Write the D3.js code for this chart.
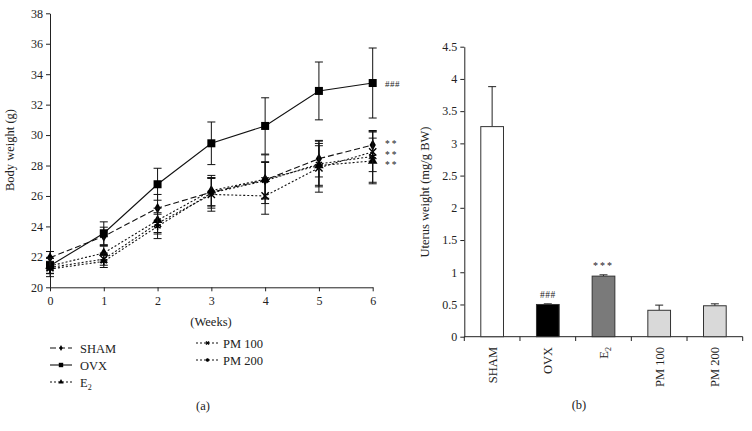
<!DOCTYPE html>
<html><head><meta charset="utf-8">
<script src="https://cdn.jsdelivr.net/npm/d3@7"></script>
<style>body{margin:0;background:#fff}svg{display:block}text{font-family:"Liberation Serif","DejaVu Serif",serif;fill:#222}</style>
</head><body><svg id="c" width="752" height="431"></svg>
<script>
const weeks = [0,1,2,3,4,5,6];
const shamMean = [21.95,23.35,25.2,26.25,27.05,28.45,29.35];
const shamSD   = [0.4,0.6,0.9,0.9,1.2,1.2,0.9];
const ovxMean  = [21.42,23.55,26.77,29.46,30.6,32.9,33.42];
const ovxSD    = [0.5,0.75,1.05,1.4,1.85,1.9,2.3];
const e2Mean   = [21.4,22.25,24.4,26.35,27.1,28.0,28.3];
const e2SD     = [0.5,0.45,0.8,1.0,1.6,1.3,1.5];
const pm100Mean= [21.3,21.85,24.2,26.1,26.0,27.85,28.9];
const pm100SD  = [0.4,0.4,0.7,1.1,1.2,1.6,1.3];
const pm200Mean= [21.2,21.7,24.0,26.2,27.0,28.1,28.6];
const pm200SD  = [0.5,0.4,0.8,1.0,1.2,1.5,1.7];
const yTicksA  = [20,22,24,26,28,30,32,34,36,38];
const endNotesA = ["###","**","**","**"];

const groups   = ["SHAM","OVX","E2","PM 100","PM 200"];
const uterus   = [3.26,0.5,0.94,0.41,0.48];
const uterusSD = [0.62,0.01,0.02,0.08,0.03];
const uterusFill = ["#ffffff","#000000","#7a7a7a","#d9d9d9","#d9d9d9"];
const uterusNote = ["","###","***","",""];
const yTicksB  = [0,0.5,1,1.5,2,2.5,3,3.5,4,4.5];

const svg = d3.select("#c");

// ---------- Panel (a) ----------
const xA = d3.scaleLinear().domain([0,6]).range([50,372.7]);
const yA = d3.scaleLinear().domain([20,38]).range([287.3,13.3]);

const gA = svg.append("g");
gA.append("g").attr("transform","translate(0,287.3)")
  .call(d3.axisBottom(xA).tickValues(weeks).tickSize(4).tickSizeOuter(0).tickFormat(d3.format("d")))
  .call(g=>g.selectAll("text").attr("font-size",12).attr("dy","0.9em"));
gA.append("g").attr("transform","translate(50,0)")
  .call(d3.axisLeft(yA).tickValues(yTicksA).tickSize(4).tickSizeOuter(0))
  .call(g=>g.selectAll("text").attr("font-size",12));
gA.selectAll(".domain,.tick line").attr("stroke","#222");

gA.append("text").attr("transform","translate(14,150) rotate(-90)").attr("text-anchor","middle").attr("font-size",12.5).text("Body weight (g)");
gA.append("text").attr("x",211).attr("y",326).attr("text-anchor","middle").attr("font-size",12.5).text("(Weeks)");
gA.append("text").attr("x",203).attr("y",410).attr("text-anchor","middle").attr("font-size",12.5).text("(a)");

const series = [
  {name:"SHAM", mean:shamMean, sd:shamSD, dash:"6,3", marker:"diamond"},
  {name:"OVX", mean:ovxMean, sd:ovxSD, dash:null, marker:"square"},
  {name:"E2", mean:e2Mean, sd:e2SD, dash:"2,2", marker:"triangle"},
  {name:"PM 100", mean:pm100Mean, sd:pm100SD, dash:"2,2", marker:"x"},
  {name:"PM 200", mean:pm200Mean, sd:pm200SD, dash:"2,2", marker:"star"}
];

function drawMarker(g, type, x, y, scale){
  const s = scale||1;
  if(type==="square") g.append("rect").attr("x",x-4*s).attr("y",y-4*s).attr("width",8*s).attr("height",8*s).attr("fill","#000");
  else if(type==="diamond") g.append("path").attr("d",d3.symbol(d3.symbolDiamond, 34*s*s)()).attr("transform",`translate(${x},${y})`).attr("fill","#000");
  else if(type==="triangle") g.append("path").attr("d",d3.symbol(d3.symbolTriangle, 40*s*s)()).attr("transform",`translate(${x},${y})`).attr("fill","#000");
  else if(type==="x") g.append("path").attr("d",d3.symbol(d3.symbolX, 36*s*s)()).attr("transform",`translate(${x},${y})`).attr("stroke","#000").attr("stroke-width",1.4).attr("fill","none");
  else if(type==="star") g.append("path").attr("d",d3.symbol(d3.symbolAsterisk, 36*s*s)()).attr("transform",`translate(${x},${y})`).attr("stroke","#000").attr("stroke-width",1.4).attr("fill","none");
}

const line = d3.line().x((d,i)=>xA(weeks[i])).y(d=>yA(d));
series.forEach(s=>{
  const g = gA.append("g");
  s.mean.forEach((m,i)=>{
    const x = xA(weeks[i]);
    g.append("line").attr("x1",x).attr("x2",x).attr("y1",yA(m+s.sd[i])).attr("y2",yA(m-s.sd[i])).attr("stroke","#111").attr("stroke-width",1);
    [m+s.sd[i], m-s.sd[i]].forEach(v=>g.append("line").attr("x1",x-4).attr("x2",x+4).attr("y1",yA(v)).attr("y2",yA(v)).attr("stroke","#111").attr("stroke-width",1));
  });
  g.append("path").attr("d",line(s.mean)).attr("fill","none").attr("stroke","#111").attr("stroke-width",1.1).attr("stroke-dasharray",s.dash);
  s.mean.forEach((m,i)=>drawMarker(g,s.marker,xA(weeks[i]),yA(m)));
});

// end annotations (OVX, SHAM, PM 100, E2 order top to bottom)
const noteY = [yA(ovxMean[6])+1, yA(shamMean[6])-1.5, yA(pm100Mean[6])+2.5, yA(e2Mean[6])+3.5];
endNotesA.forEach((t,i)=>{
  gA.append("text").attr("x",385).attr("y",noteY[i]).attr("dy","0.35em").attr("font-size",t==="###"?9:9.5)
    .attr("letter-spacing",t==="###"?0.5:2).attr("fill","#555").text(t);
});

// legend
const legL = [{s:series[0],y:348},{s:series[1],y:365},{s:series[2],y:382}];
const legR = [{s:series[3],y:343},{s:series[4],y:360}];
function legItem(it,x0,x1,tx,sc){
  const g = gA.append("g");
  g.append("line").attr("x1",x0).attr("x2",x1).attr("y1",it.y).attr("y2",it.y).attr("stroke","#111").attr("stroke-width",1.1).attr("stroke-dasharray",it.s.dash);
  drawMarker(g,it.s.marker,(x0+x1)/2,it.y,sc);
  const t = g.append("text").attr("x",tx).attr("y",it.y+4.5).attr("font-size",12.5);
  if(it.s.name==="E2"){ t.text("E"); t.append("tspan").attr("font-size",8).attr("dy",3).text("2"); }
  else t.text(it.s.name);
}
legL.forEach(it=>legItem(it,50,72,80,0.55));
legR.forEach(it=>legItem(it,196,219,223,0.45));

// ---------- Panel (b) ----------
const yB = d3.scaleLinear().domain([0,4.5]).range([336.7,46.7]);
const xB = d3.scaleBand().domain(groups).range([464.3,742.7]);
const gB = svg.append("g");

gB.append("g").attr("transform","translate(464.3,0)")
  .call(d3.axisLeft(yB).tickValues(yTicksB).tickSize(4).tickSizeOuter(0).tickFormat(d=>String(d)))
  .call(g=>g.selectAll("text").attr("font-size",12));
const xAxisG = gB.append("g");
xAxisG.append("line").attr("x1",464.3).attr("x2",742.7).attr("y1",336.7).attr("y2",336.7).attr("stroke","#222");
groups.concat([null]).forEach((gname,i)=>{
  const x = gname ? xB(gname) : xB.range()[1];
  xAxisG.append("line").attr("x1",x).attr("x2",x).attr("y1",336.7).attr("y2",341).attr("stroke","#222");
});
gB.selectAll(".domain,.tick line").attr("stroke","#222");

groups.forEach((gname,i)=>{
  const cx = xB(gname)+xB.bandwidth()/2;
  const bw = 22.7;
  const top = yB(uterus[i]+uterusSD[i]);
  gB.append("line").attr("x1",cx).attr("x2",cx).attr("y1",top).attr("y2",yB(uterus[i])).attr("stroke","#222");
  gB.append("line").attr("x1",cx-4).attr("x2",cx+4).attr("y1",top).attr("y2",top).attr("stroke","#222");
  gB.append("rect").attr("x",cx-bw/2).attr("y",yB(uterus[i])).attr("width",bw).attr("height",yB(0)-yB(uterus[i]))
    .attr("fill",uterusFill[i]).attr("stroke","#333").attr("stroke-width",1);
  if(uterusNote[i]) gB.append("text").attr("x",cx).attr("y",top-6).attr("text-anchor","middle").attr("font-size",uterusNote[i]==="***"?10:9.5).attr("fill","#555").attr("letter-spacing",uterusNote[i]==="***"?2:0.5).text(uterusNote[i]);
  const t = gB.append("text").attr("transform",`translate(${cx+4.5},347) rotate(-90)`).attr("text-anchor","end").attr("font-size",12.5);
  if(gname==="E2"){ t.text("E"); t.append("tspan").attr("font-size",8).attr("dy",3).text("2"); }
  else t.text(gname);
});

gB.append("text").attr("transform","translate(429,192) rotate(-90)").attr("text-anchor","middle").attr("font-size",12.5).text("Uterus weight (mg/g BW)");
gB.append("text").attr("x",579).attr("y",409).attr("text-anchor","middle").attr("font-size",12.5).text("(b)");
</script></body></html>
